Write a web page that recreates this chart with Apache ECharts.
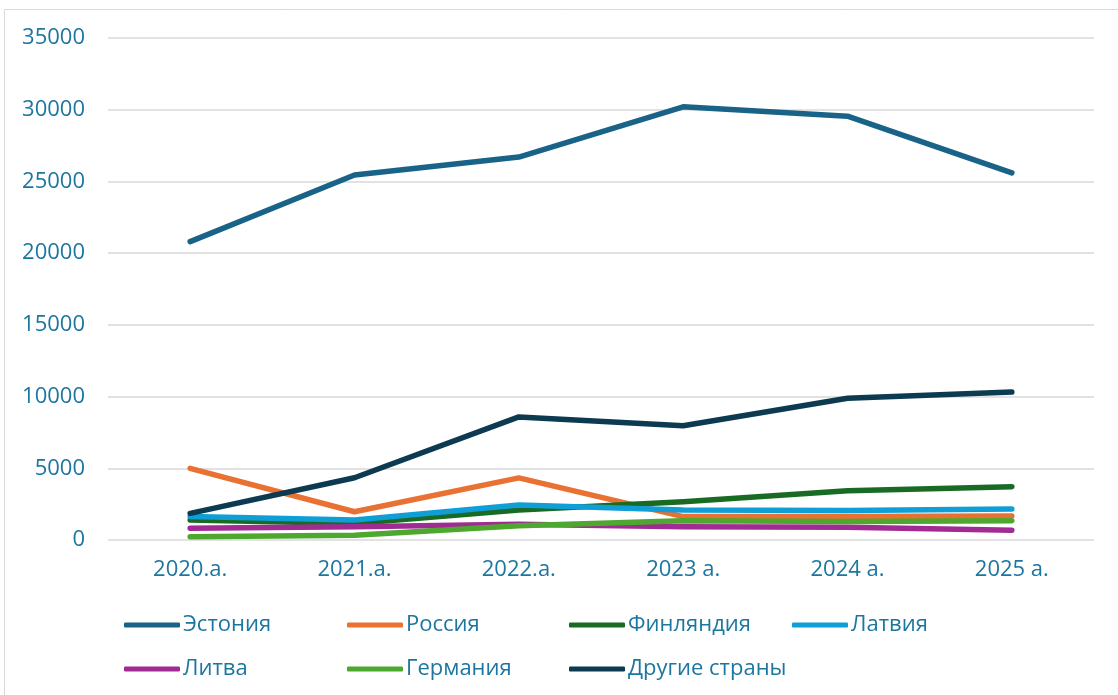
<!DOCTYPE html>
<html>
<head>
<meta charset="utf-8">
<script src="https://cdn.jsdelivr.net/npm/echarts@6/dist/echarts.min.js"></script>
<style>
  html, body { margin: 0; padding: 0; background: #fff; }
  #chart { width: 1118px; height: 695px; }
</style>
</head>
<body>
<div id="chart"></div>
<script>
var years = ['2020.a.', '2021.a.', '2022.a.', '2023 a.', '2024 a.', '2025 a.'];
var names = ['Эстония', 'Россия', 'Финляндия', 'Латвия', 'Литва', 'Германия', 'Другие страны'];
var colors = ['#1a6388', '#e97132', '#196b24', '#0f9ed5', '#a02b93', '#4ea72e', '#0c3a50'];

var estonia = [20800, 25450, 26700, 30200, 29550, 25600];
var russia = [5000, 1970, 4330, 1630, 1630, 1670];
var finland = [1390, 1150, 2090, 2670, 3440, 3720];
var latvia = [1630, 1400, 2440, 2090, 2050, 2160];
var lithuania = [820, 920, 1100, 930, 890, 680];
var germany = [230, 330, 990, 1350, 1290, 1350];
var others = [1860, 4340, 8580, 7960, 9880, 10320];

var yTicks = [0, 5000, 10000, 15000, 20000, 25000, 30000, 35000];

var values = [estonia, russia, finland, latvia, lithuania, germany, others];
var textColor = '#1b76a0';
var font = '"Open Sans", "Liberation Sans", sans-serif';

// legend placed item by item, two rows
var legendPos = [
  [124, 614], [347, 614], [569, 614], [792, 614],
  [124, 658], [347, 658], [569, 658]
];

var legends = names.map(function(n, i) {
  return {
    data: [n],
    left: legendPos[i][0],
    top: legendPos[i][1],
    padding: 0,
    icon: 'roundRect',
    itemWidth: 56,
    itemHeight: 5,
    selectedMode: false,
    textStyle: {color: textColor, fontSize: 22, fontFamily: font, padding: [0, 0, 0, -2]}
  };
});

var series = names.map(function(n, i) {
  return {
    name: n,
    type: 'line',
    data: values[i],
    symbol: 'none',
    color: colors[i],
    lineStyle: {width: 5.5, color: colors[i], cap: 'round', join: 'round'},
    emphasis: {disabled: true}
  };
});

var chart = echarts.init(document.getElementById('chart'));
var option = {
  animation: false,
  color: colors,
  legend: legends,
  grid: {left: 108, right: 24, top: 38, bottom: 155, containLabel: false},
  xAxis: {
    type: 'category',
    data: years,
    boundaryGap: true,
    axisLine: {show: false},
    axisTick: {show: false},
    axisLabel: {color: textColor, fontSize: 22, fontFamily: font, margin: 19}
  },
  yAxis: {
    type: 'value',
    min: yTicks[0],
    max: yTicks[yTicks.length - 1],
    interval: 5000,
    axisLine: {show: false},
    axisTick: {show: false},
    axisLabel: {
      color: textColor, fontSize: 22, fontFamily: font, margin: 23,
      formatter: function(v) { return String(v); }
    },
    splitLine: {lineStyle: {color: '#d9d9d9', width: 1.5}}
  },
  graphic: [{
    type: 'rect',
    shape: {x: 4.5, y: 9.5, width: 1200, height: 800},
    style: {fill: 'none', stroke: '#d9d9d9', lineWidth: 1},
    silent: true
  }],
  series: series
};
chart.setOption(option);
</script>
</body>
</html>
